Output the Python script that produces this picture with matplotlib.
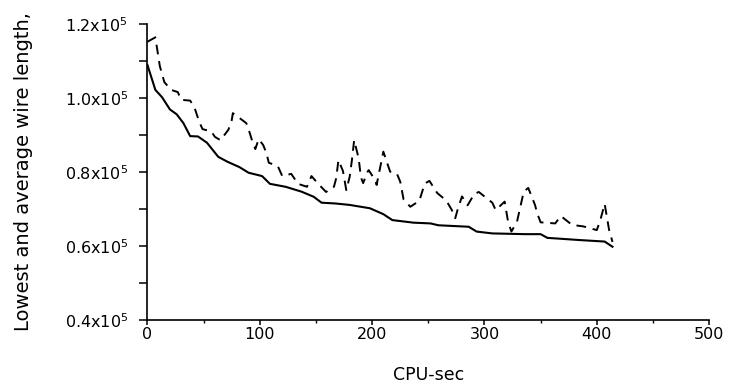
import matplotlib
matplotlib.use("Agg")
import matplotlib.pyplot as plt
from matplotlib.ticker import MultipleLocator

plt.rcParams["font.family"] = "DejaVu Sans"
plt.rcParams["mathtext.fontset"] = "custom"
plt.rcParams["mathtext.rm"] = "DejaVu Sans"
plt.rcParams["mathtext.it"] = "DejaVu Sans"

# Lowest wire length found so far (units of 1e5) vs CPU time (s)
lowest_t = [0, 7, 13, 20, 26, 32, 38, 45, 53, 63, 71, 82, 90, 102, 109, 123,
            137, 148, 155, 167, 180, 198, 210, 218, 237, 252, 259, 286, 293,
            307, 336, 350, 356, 385, 407, 414]
lowest_len = [1.089, 1.022, 1.002, 0.969, 0.956, 0.932, 0.897, 0.896, 0.879,
              0.841, 0.828, 0.813, 0.798, 0.789, 0.768, 0.760, 0.747, 0.733,
              0.717, 0.715, 0.711, 0.702, 0.686, 0.670, 0.663, 0.661, 0.656,
              0.652, 0.639, 0.634, 0.632, 0.632, 0.622, 0.616, 0.612, 0.598]

# Average wire length of the population (units of 1e5) vs CPU time (s)
average_t = [0, 7, 11, 15, 21, 27, 30, 38, 42, 46, 49, 57, 60, 65, 72, 75, 76,
             81, 88, 91, 93, 96, 99, 103, 106, 108, 116, 120, 128, 134, 142,
             146, 152, 159, 166, 168, 170, 174, 177, 180, 182, 184, 188, 190,
             192, 196, 197, 203, 204, 207, 210, 214, 216, 222, 225, 228, 234,
             242, 245, 247, 251, 258, 266, 271, 274, 276, 280, 285, 291, 295,
             307, 310, 318, 321, 324, 329, 331, 335, 339, 345, 347, 350, 363,
             368, 378, 388, 400, 403, 407, 411, 414]
average_len = [1.152, 1.164, 1.086, 1.043, 1.022, 1.016, 0.995, 0.993, 0.973,
               0.936, 0.916, 0.909, 0.895, 0.886, 0.914, 0.940, 0.959, 0.948,
               0.932, 0.906, 0.886, 0.862, 0.889, 0.873, 0.850, 0.825, 0.816,
               0.789, 0.795, 0.768, 0.760, 0.789, 0.768, 0.746, 0.760, 0.783,
               0.832, 0.803, 0.751, 0.787, 0.832, 0.886, 0.837, 0.786, 0.770,
               0.801, 0.805, 0.776, 0.765, 0.810, 0.855, 0.819, 0.801, 0.796,
               0.774, 0.726, 0.706, 0.722, 0.751, 0.769, 0.776, 0.743, 0.723,
               0.697, 0.675, 0.697, 0.734, 0.710, 0.741, 0.746, 0.717, 0.697,
               0.720, 0.666, 0.639, 0.666, 0.693, 0.747, 0.757, 0.711, 0.688,
               0.664, 0.661, 0.681, 0.657, 0.653, 0.643, 0.668, 0.714, 0.643,
               0.611]

x_ticks = [0, 100, 200, 300, 400, 500]
y_ticks = [0.4, 0.6, 0.8, 1.0, 1.2]
y_tick_labels = ["0.4x10$^5$", "0.6x10$^5$", "0.8x10$^5$", "1.0x10$^5$",
                 "1.2x10$^5$"]

fig = plt.figure(figsize=(7.29, 3.89), dpi=100)
ax = fig.add_axes([0.2023, 0.1774, 0.7704, 0.7609])

ax.plot(lowest_t, lowest_len, color="black", lw=1.5, solid_joinstyle="round")
ax.plot(average_t, average_len, color="black", lw=1.4,
        linestyle=(0, (5, 3.5)))

ax.set_xlim(0, 500)
ax.set_ylim(0.4, 1.2)
for side in ("top", "right"):
    ax.spines[side].set_visible(False)
for side in ("left", "bottom"):
    ax.spines[side].set_linewidth(1.2)

ax.set_xticks(x_ticks)
ax.set_yticks(y_ticks)
ax.set_yticklabels(y_tick_labels)
ax.xaxis.set_minor_locator(MultipleLocator(50))
ax.yaxis.set_minor_locator(MultipleLocator(0.1))
ax.tick_params(axis="y", which="both", direction="out", length=6, width=1.1,
               labelsize=11.5, pad=8)
ax.tick_params(axis="x", which="major", direction="out", length=3.5,
               width=1.1, labelsize=11.5, pad=1.5)
ax.tick_params(axis="x", which="minor", direction="out", length=2.5,
               width=1.0)

ax.set_xlabel("CPU-sec", fontsize=12.5, labelpad=17)
ax.set_ylabel("Lowest and average wire length,", fontsize=14)
ax.yaxis.set_label_coords(-0.204, 0.5)

fig.savefig("out.png", dpi=100)
